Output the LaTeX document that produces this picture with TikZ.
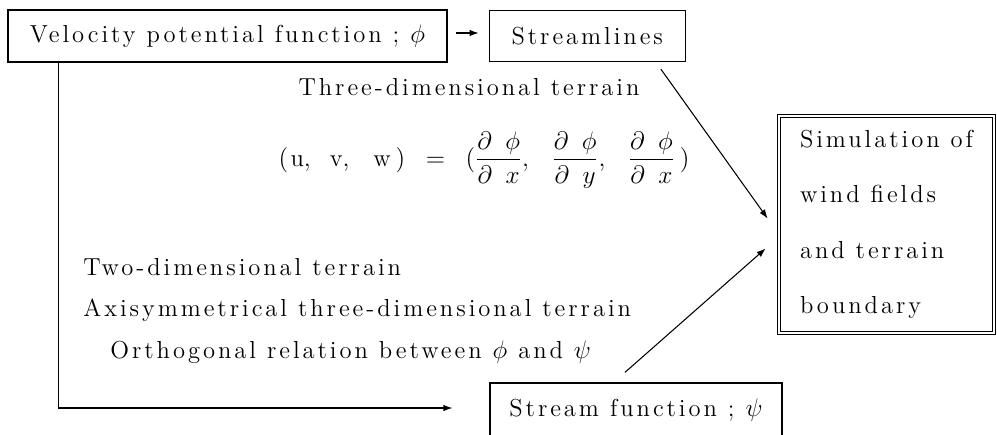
\documentclass[tikz,border=0pt]{standalone}
\usepackage{amsmath}
\usepackage{fontspec}
\usetikzlibrary{arrows.meta,positioning,calc}
\newfontfamily\spfont{Latin Modern Roman}[LetterSpace=12]
\newcommand{\txtfont}{\spfont\fontsize{14}{16}\selectfont}
\newcommand{\simfont}{\spfont\fontsize{14}{31.5}\selectfont}
\tikzset{
  box/.style={rectangle, draw=black, line width=0.75pt, align=center, inner sep=0pt, font=\txtfont},
  simbox/.style={rectangle, draw=black, double, double distance=1.4pt, line width=0.5pt,
    align=left, inner sep=0pt, font=\simfont},
  lbl/.style={inner sep=0pt, font=\txtfont},
  arrow/.style={-{Latex[length=1.8mm,width=1.3mm]}, line width=0.6pt, draw=black}
}

\begin{document}
\begin{tikzpicture}[x=0.02cm, y=-0.02cm]
  \useasboundingbox (0,0) rectangle (997,434);
  \node[box, minimum width=8.78cm, minimum height=1.04cm] (vel) at (227.5,36) {Velocity potential function ; $\phi$};
  \node[box, minimum width=3.92cm, minimum height=1.02cm, right=0.82cm of vel] (streamlines) {Streamlines};
  \node[simbox, minimum width=4.3cm, minimum height=4.34cm] (sim) at (886.5,224.5)
    {Simulation of\\wind fields\\and terrain\\boundary};
  \node[box, minimum width=5.84cm, minimum height=1.08cm] (sfun) at (636,410) {Stream function ; $\psi$};
  % labels
  \node[lbl] (three) at (469,87) {Three-dimensional terrain};
  \node[lbl] (eq) at (484,160)
    {$(\hspace{0.1em}\mathrm{u},\hspace{0.6em}\mathrm{v},\hspace{0.8em}\mathrm{w}\hspace{0.2em})\hspace{0.55em}=\hspace{0.55em}(\dfrac{\partial\hspace{0.55em}\phi}{\partial\hspace{0.55em}x},\hspace{0.75em}\dfrac{\partial\hspace{0.55em}\phi}{\partial\hspace{0.55em}y},\hspace{0.75em}\dfrac{\partial\hspace{0.55em}\phi}{\partial\hspace{0.55em}x}\hspace{0.2em})$};
  \node[lbl, anchor=west] (two) at (83,267) {Two-dimensional terrain};
  \node[lbl, anchor=west] (axi) at (83,310) {Axisymmetrical three-dimensional terrain};
  \node[lbl, anchor=west] (orth) at (110,352) {Orthogonal relation between $\phi$ and $\psi$};
  % connectors
  \draw[arrow, shorten <=0.16cm, shorten >=0.2cm] ($(vel.east)+(0,-3)$) -- ($(vel.east -| streamlines.west)+(0,-3)$);
  \draw[arrow] ($(vel.south west)+(51,0)$) |- ($(sfun.west)+(-37,-2)$);
  \draw[arrow] ($(streamlines.south east)+(-25,7)$) -- ($(sim.west)+(-11,-6)$);
  \draw[arrow] ($(sfun.north)+(-11,-10)$) -- ($(sim.west)+(-13,24)$);
\end{tikzpicture}
\end{document}
